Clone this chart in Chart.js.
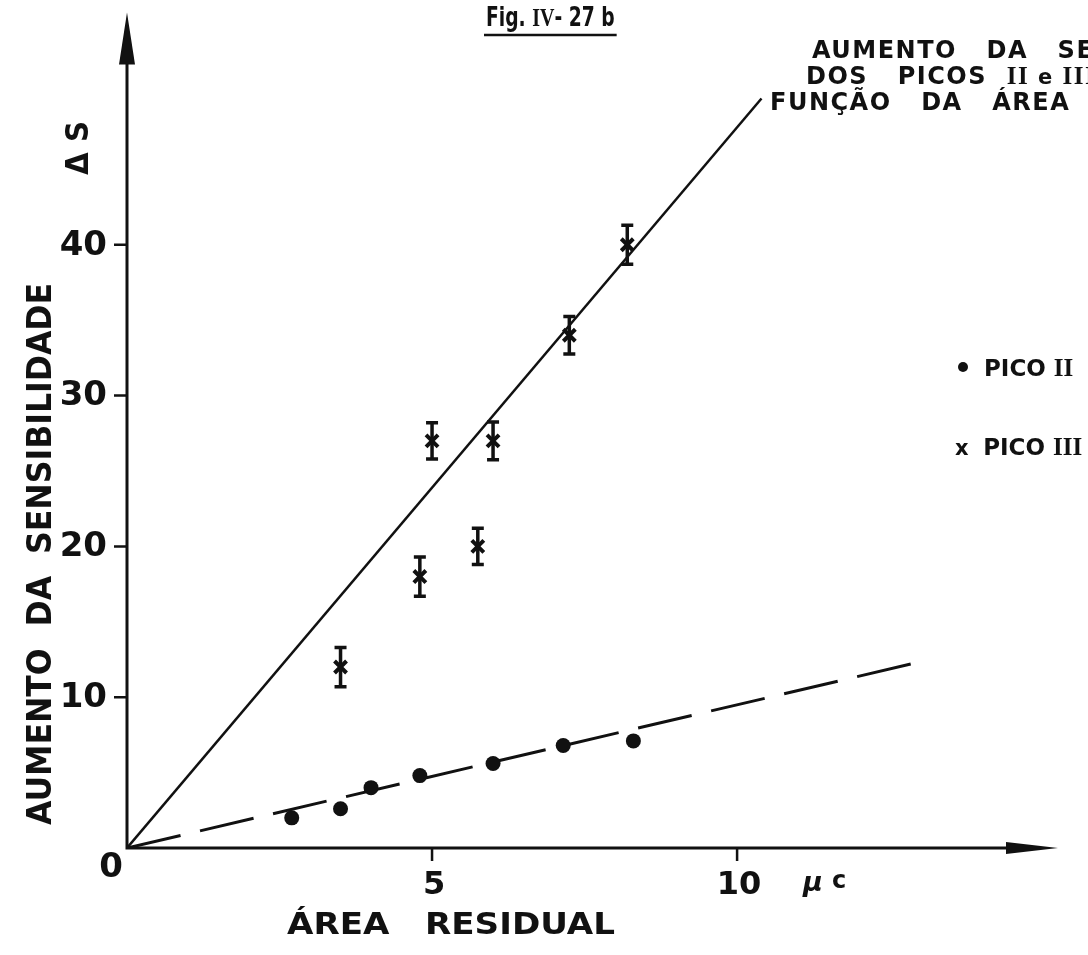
<!DOCTYPE html>
<html>
<head>
<meta charset="utf-8">
<script src="https://cdn.jsdelivr.net/npm/chart.js@4/dist/chart.umd.min.js"></script>
<style>
  html,body{margin:0;padding:0;background:#fff;}
  canvas{display:block;}
</style>
</head>
<body>
<canvas id="fig" width="1088" height="955"></canvas>
<script>
// data (x: area residual in µC, y: ΔS)
const picoIIx  = [2.7, 3.5, 4.0, 4.8, 6.0, 7.15, 8.3];
const picoIIy  = [2.0, 2.6, 4.0, 4.8, 5.6, 6.8, 7.1];
const picoIIIx = [3.5, 4.8, 5.0, 5.75, 6.0, 7.25, 8.2];
const picoIIIy = [12, 18, 27, 20, 27, 34, 40];
const picoIIIerr = [1.3, 1.3, 1.2, 1.2, 1.25, 1.25, 1.3];
// fitted lines through the origin
const fitIIIx = [0, 10.4];
const fitIIIy = [0, 49.7];
const fitIIx  = [0, 12.85];
const fitIIy  = [0, 12.2];
const xTicks = [5, 10];
const yTicks = [10, 20, 30, 40];

const INK = '#111';
const SANS = '"DejaVu Sans", "Liberation Sans", sans-serif';
const NARROW = '"DejaVu Sans Condensed", "Liberation Sans Narrow", sans-serif';
const SERIF = '"Liberation Serif", "DejaVu Serif", serif';

const pts = (xs, ys) => xs.map((x,i)=> ({x, y: ys[i]}));

function fitText(ctx, text, x, y, width){
  const w = ctx.measureText(text).width;
  ctx.save();
  ctx.translate(x, y);
  ctx.scale(width / w, 1);
  ctx.fillText(text, 0, 0);
  ctx.restore();
}
// runs of [text, font]; returns end x
function runs(ctx, x, y, list, spacing){
  ctx.letterSpacing = (spacing || 0) + 'px';
  list.forEach(([t, f])=>{
    ctx.font = f;
    ctx.fillText(t, x, y);
    x += ctx.measureText(t).width;
  });
  ctx.letterSpacing = '0px';
  return x;
}

const errorBars = {
  id: 'errorBars',
  afterDatasetsDraw(chart){
    const {ctx, scales:{x, y}} = chart;
    ctx.save();
    ctx.strokeStyle = INK; ctx.lineWidth = 3.5;
    picoIIIx.forEach((v,i)=>{
      const px = x.getPixelForValue(v);
      const top = y.getPixelForValue(picoIIIy[i] + picoIIIerr[i]);
      const bot = y.getPixelForValue(picoIIIy[i] - picoIIIerr[i]);
      ctx.beginPath();
      ctx.moveTo(px, top); ctx.lineTo(px, bot);
      ctx.moveTo(px-6, top); ctx.lineTo(px+6, top);
      ctx.moveTo(px-6, bot); ctx.lineTo(px+6, bot);
      ctx.stroke();
    });
    ctx.restore();
  }
};

const axesAndText = {
  id: 'axesAndText',
  afterDraw(chart){
    const {ctx, chartArea:a, scales:{x, y}} = chart;
    const x0 = x.getPixelForValue(0), y0 = y.getPixelForValue(0);
    ctx.save();
    ctx.strokeStyle = INK; ctx.fillStyle = INK; ctx.lineWidth = 3; ctx.lineCap = 'butt';
    // axes
    ctx.beginPath();
    ctx.moveTo(x0, a.top + 40); ctx.lineTo(x0, y0);
    ctx.lineTo(a.right - 40, y0);
    ctx.stroke();
    // arrow heads
    ctx.beginPath();
    ctx.moveTo(x0, a.top); ctx.lineTo(x0 - 8, a.top + 52); ctx.lineTo(x0 + 8, a.top + 52); ctx.closePath();
    ctx.fill();
    ctx.beginPath();
    ctx.moveTo(a.right, y0); ctx.lineTo(a.right - 52, y0 - 6); ctx.lineTo(a.right - 52, y0 + 6); ctx.closePath();
    ctx.fill();
    // ticks
    ctx.lineWidth = 2.5;
    ctx.beginPath();
    yTicks.forEach(t=>{ const py = y.getPixelForValue(t); ctx.moveTo(x0 - 13, py); ctx.lineTo(x0, py); });
    xTicks.forEach(t=>{ const px = x.getPixelForValue(t); ctx.moveTo(px, y0); ctx.lineTo(px, y0 + 13); });
    ctx.stroke();
    // tick labels
    ctx.font = 'bold 34px ' + SANS;
    ctx.textBaseline = 'middle'; ctx.textAlign = 'right';
    yTicks.forEach(t=> ctx.fillText(String(t), x0 - 20, y.getPixelForValue(t) + 1));
    ctx.textAlign = 'center';
    ctx.fillText('0', x0 - 16, y0 + 20);
    ctx.font = 'bold 32px ' + SANS;
    xTicks.forEach(t=> ctx.fillText(String(t), x.getPixelForValue(t) + 2, y0 + 38));
    ctx.textAlign = 'left';
    ctx.font = 'italic bold 27px ' + SANS;
    ctx.fillText('µ', 803, y0 + 36);
    ctx.font = 'bold 24px ' + SANS;
    ctx.fillText('c', 832, y0 + 34);
    // x axis title
    ctx.font = 'bold 31px ' + SANS;
    ctx.textAlign = 'left'; ctx.textBaseline = 'alphabetic';
    fitText(ctx, 'ÁREA   RESIDUAL', 287, 934, 328);
    // y axis title
    ctx.save();
    ctx.translate(42, 554); ctx.rotate(-Math.PI/2);
    ctx.font = 'bold 34px ' + SANS; ctx.textAlign = 'left'; ctx.textBaseline = 'middle';
    fitText(ctx, 'AUMENTO  DA  SENSIBILIDADE', -271, 0, 542);
    ctx.restore();
    ctx.save();
    ctx.translate(80, 148); ctx.rotate(-Math.PI/2);
    ctx.font = 'bold 32px ' + SANS; ctx.textAlign = 'left'; ctx.textBaseline = 'middle';
    fitText(ctx, 'Δ S', -27, 0, 54);
    ctx.restore();
    // figure number
    ctx.textAlign = 'left'; ctx.textBaseline = 'alphabetic';
    ctx.save();
    ctx.translate(486, 26); ctx.scale(0.8, 1);
    const endFig = runs(ctx, 0, 0, [
      ['Fig. ', 'bold 26px ' + NARROW],
      ['IV', 'bold 25px ' + SERIF],
      ['- 27 b', 'bold 26px ' + NARROW]
    ]);
    ctx.restore();
    ctx.lineWidth = 2.5;
    ctx.beginPath(); ctx.moveTo(484, 35); ctx.lineTo(486 + endFig * 0.8 + 2, 35); ctx.stroke();
    // caption (runs off the right edge, as in the scan)
    runs(ctx, 812, 58, [['AUMENTO   DA   SENSIBILIDADE', 'bold 24px ' + SANS]], 1.5);
    runs(ctx, 806, 84, [
      ['DOS   PICOS  ', 'bold 24px ' + SANS],
      ['II', 'bold 25px ' + SERIF],
      [' e ', 'bold 21px ' + SANS],
      ['III', 'bold 25px ' + SERIF],
      ['  EM', 'bold 24px ' + SANS]
    ], 1.5);
    runs(ctx, 770, 110, [['FUNÇÃO   DA   ÁREA   RESIDUAL', 'bold 24px ' + SANS]], 1.5);
    // legend
    ctx.beginPath(); ctx.arc(963, 367, 5, 0, Math.PI*2); ctx.fill();
    runs(ctx, 984, 376, [['PICO ', 'bold 23px ' + SANS], ['II', 'bold 25px ' + SERIF]]);
    runs(ctx, 955, 455, [['x  ', 'bold 21px ' + SANS], ['PICO ', 'bold 23px ' + SANS], ['III', 'bold 25px ' + SERIF]]);
    ctx.restore();
  }
};

new Chart(document.getElementById('fig'), {
  type: 'scatter',
  data: {
    datasets: [
      { label: 'PICO II', data: pts(picoIIx, picoIIy), pointStyle: 'circle', pointRadius: 7.5,
        backgroundColor: INK, borderColor: INK, borderWidth: 0 },
      { label: 'PICO III', data: pts(picoIIIx, picoIIIy), pointStyle: 'crossRot', pointRadius: 8.5,
        borderColor: INK, borderWidth: 4 },
      { label: 'ajuste III', data: pts(fitIIIx, fitIIIy), showLine: true, pointRadius: 0,
        borderColor: INK, borderWidth: 2.5 },
      { label: 'ajuste II', data: pts(fitIIx, fitIIy), showLine: true, pointRadius: 0,
        borderColor: INK, borderWidth: 3, borderDash: [55, 20] }
    ]
  },
  options: {
    responsive: false,
    animation: false,
    layout: { padding: { left: 127, right: 30, top: 10, bottom: 107 } },
    plugins: { legend: { display: false }, tooltip: { enabled: false } },
    scales: {
      x: { type: 'linear', min: 0, max: 15.26, display: false },
      y: { type: 'linear', min: 0, max: 55.4, display: false }
    }
  },
  plugins: [errorBars, axesAndText]
});
</script>
</body>
</html>
